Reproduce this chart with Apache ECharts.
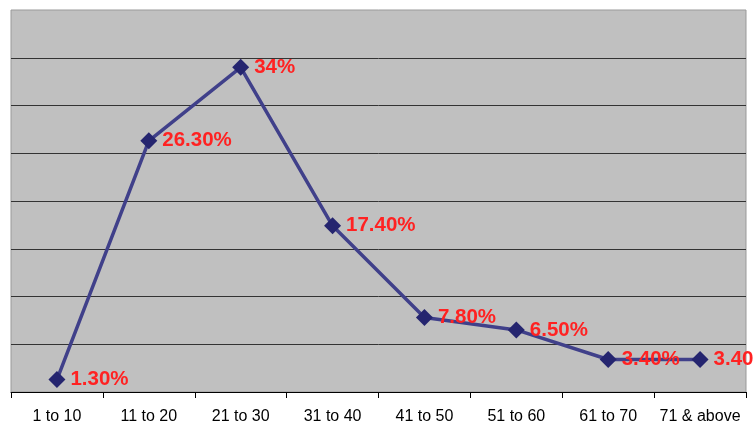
<!DOCTYPE html>
<html>
<head>
<meta charset="utf-8">
<script src="https://cdn.jsdelivr.net/npm/echarts@6/dist/echarts.min.js"></script>
<style>
html,body{margin:0;padding:0;background:#fff;}
#chart{width:753px;height:426px;}
</style>
</head>
<body>
<div id="chart"></div>
<script>
var categories = ['1 to 10','11 to 20','21 to 30','31 to 40','41 to 50','51 to 60','61 to 70','71 & above'];
var values = [1.3, 26.3, 34, 17.4, 7.8, 6.5, 3.4, 3.4];
var labels = ['1.30%','26.30%','34%','17.40%','7.80%','6.50%','3.40%','3.40%'];

var chart = echarts.init(document.getElementById('chart'));
chart.setOption({
  animation: false,
  backgroundColor: '#ffffff',
  grid: {
    left: 11, right: 7, top: 10, bottom: 34,
    show: true, backgroundColor: '#c0c0c0', borderColor: '#999999', borderWidth: 1
  },
  xAxis: {
    type: 'category',
    data: categories,
    boundaryGap: true,
    axisLine: { show: true, lineStyle: { color: '#000', width: 1 } },
    axisTick: { show: true, length: 6, lineStyle: { color: '#000' } },
    axisLabel: { color: '#000', fontFamily: 'Liberation Sans, Arial, sans-serif', fontSize: 16, margin: 17, interval: 0 }
  },
  yAxis: {
    type: 'value',
    min: 0, max: 40, interval: 5,
    axisLine: { show: false },
    axisTick: { show: false },
    axisLabel: { show: false },
    splitLine: { show: true, showMaxLine: false, lineStyle: { color: '#333333', width: 1 } }
  },
  series: [{
    type: 'line',
    data: values,
    symbol: 'diamond',
    symbolSize: 17,
    itemStyle: { color: '#25256f' },
    lineStyle: { color: '#40408a', width: 3.5 },
    label: {
      show: true,
      position: 'right',
      distance: 5,
      formatter: function (p) { return labels[p.dataIndex]; },
      color: '#ff2222',
      fontFamily: 'Liberation Sans, Arial, sans-serif',
      fontWeight: 'bold',
      fontSize: 20.5
    }
  }]
});
</script>
</body>
</html>
